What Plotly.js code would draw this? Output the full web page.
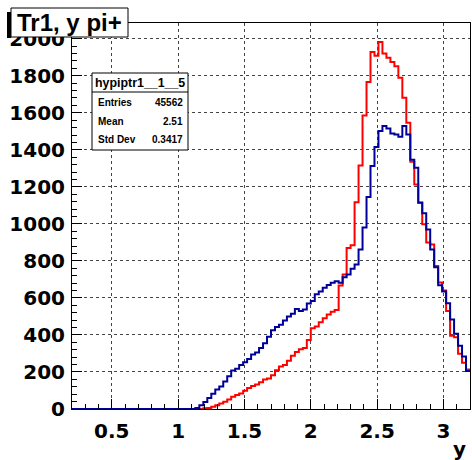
<!DOCTYPE html>
<html><head><meta charset="utf-8">
<script src="https://cdn.plot.ly/plotly-3.0.1.min.js"></script>
<style>html,body{margin:0;padding:0;background:#fff}</style>
</head><body><div id="chart" style="width:472px;height:460px"></div>
<script>
const binLow = 0.2;
const binWidth = 0.03;
const redCounts = [
  0,0,0,0,0,0,0,0,0,0,
  0,0,0,0,0,0,0,0,0,0,
  0,0,0,0,0,0,0,0,0,0,
  0,0,0,4,6,12,20,30,39,51,
  66,75,84,98,113,124,133,145,160,165,
  182,209,230,238,260,287,308,323,330,373,
  436,445,468,490,510,525,535,667,726,870,
  885,1117,1315,1586,1766,1928,1908,1982,1920,1897,
  1874,1852,1789,1681,1546,1336,1213,1115,998,899,
  889,773,683,640,530,396,388,298,250,214
];
const blueCounts = [
  0,0,0,0,0,0,0,0,0,0,
  0,0,0,0,0,0,0,0,0,0,
  0,0,0,0,0,0,0,0,0,0,
  0,5,20,38,60,83,106,122,148,177,
  208,217,238,252,270,295,305,330,355,390,
  425,443,455,478,500,514,540,530,538,570,
  583,620,635,655,670,682,690,682,712,726,
  757,780,861,980,1145,1312,1415,1501,1528,1515,
  1488,1483,1470,1528,1483,1346,1303,1114,1058,969,
  862,766,668,635,571,483,406,341,284,205
];
const chartTitle = "Tr1, y pi+";
const xTitle = "y";
const histName = "hypiptr1__1__5";
const statLabels = ["Entries", "Mean", "Std Dev"];
const statValues = ["45562", "2.51", "0.3417"];

function steps(counts) {
  const x = [], y = [];
  counts.forEach((c, i) => { x.push(binLow + i * binWidth); y.push(c); });
  x.push(binLow + counts.length * binWidth);
  y.push(counts[counts.length - 1]);
  return {x, y};
}

// pixel -> paper helpers
const L = 72, R = 470, T = 23, B = 409;
const px = v => (v - L) / (R - L);
const py = v => (B - v) / (B - T);

const r = steps(redCounts), b = steps(blueCounts);
const traces = [
  {x: r.x, y: r.y, type: 'scatter', mode: 'lines', line: {shape: 'hv', color: '#ff0000', width: 2}, hoverinfo: 'skip'},
  {x: b.x, y: b.y, type: 'scatter', mode: 'lines', line: {shape: 'hv', color: '#000099', width: 2}, hoverinfo: 'skip'}
];

const tickFont = {family: 'DejaVu Sans', size: 20, color: '#000', weight: 'bold'};
const shapes = [
  {type: 'rect', xref: 'paper', yref: 'paper', x0: px(7), x1: px(11), y0: py(38), y1: py(12), fillcolor: '#000', line: {width: 0}, layer: 'above'},
  {type: 'rect', xref: 'paper', yref: 'paper', x0: px(11), x1: px(128), y0: py(37), y1: py(8), fillcolor: '#fff', line: {color: '#000', width: 1}, layer: 'above'},
  {type: 'rect', xref: 'paper', yref: 'paper', x0: px(92), x1: px(188), y0: py(150), y1: py(73), fillcolor: '#fff', line: {color: '#000', width: 1}, layer: 'above'},
  {type: 'line', xref: 'paper', yref: 'paper', x0: px(92), x1: px(188), y0: py(92), y1: py(92), line: {color: '#000', width: 1}, layer: 'above'}
];
const annotations = [
  {text: chartTitle, xref: 'paper', yref: 'paper', x: px(69.5), y: py(22.5), xanchor: 'center', yanchor: 'middle', showarrow: false,
   font: {family: 'Liberation Sans', size: 24, color: '#000', weight: 'bold'}},
  {text: xTitle, xref: 'paper', yref: 'paper', x: px(468), y: py(449), xanchor: 'right', yanchor: 'middle', showarrow: false,
   font: {family: 'DejaVu Sans', size: 20, color: '#000', weight: 'bold'}},
  {text: histName, xref: 'paper', yref: 'paper', x: px(140), y: py(83), xanchor: 'center', yanchor: 'middle', showarrow: false,
   font: {family: 'Liberation Sans', size: 12.4, color: '#000', weight: 'bold'}}
];
const rowY = [103, 121, 139];
statLabels.forEach((s, i) => {
  annotations.push({text: s, xref: 'paper', yref: 'paper', x: px(96), y: py(rowY[i]), xanchor: 'left', yanchor: 'middle', showarrow: false,
    font: {family: 'Liberation Sans', size: 10, color: '#000', weight: 'bold'}});
  annotations.push({text: statValues[i], xref: 'paper', yref: 'paper', x: px(185), y: py(rowY[i]), xanchor: 'right', yanchor: 'middle', showarrow: false,
    font: {family: 'Liberation Sans', size: 10, color: '#000', weight: 'bold'}});
});

const layout = {
  width: 472, height: 460,
  margin: {l: L, r: 472 - R, t: T, b: 460 - B, pad: 0},
  paper_bgcolor: '#fff', plot_bgcolor: '#fff',
  showlegend: false,
  xaxis: {range: [0.2, 3.2], tick0: 0, dtick: 0.5, ticks: 'inside', ticklen: 10, tickwidth: 1, tickcolor: '#000',
    minor: {dtick: 0.1, tick0: 0, ticks: 'inside', ticklen: 5, tickwidth: 1, tickcolor: '#000', showgrid: false},
    showline: true, linecolor: '#000', linewidth: 1, mirror: true,
    showgrid: true, gridcolor: '#444', griddash: 'dot', gridwidth: 1, zeroline: false,
    tickfont: tickFont, ticklabelstandoff: 4},
  yaxis: {range: [0, 2085], tick0: 0, dtick: 200, ticks: 'inside', ticklen: 10, tickwidth: 1, tickcolor: '#000',
    minor: {dtick: 40, tick0: 0, ticks: 'inside', ticklen: 5, tickwidth: 1, tickcolor: '#000', showgrid: false},
    showline: true, linecolor: '#000', linewidth: 1, mirror: true,
    showgrid: true, gridcolor: '#444', griddash: 'dot', gridwidth: 1, zeroline: false,
    tickfont: tickFont, ticklabelstandoff: 2},
  shapes: shapes,
  annotations: annotations
};
Plotly.newPlot('chart', traces, layout, {displayModeBar: false, staticPlot: true});
</script></body></html>
